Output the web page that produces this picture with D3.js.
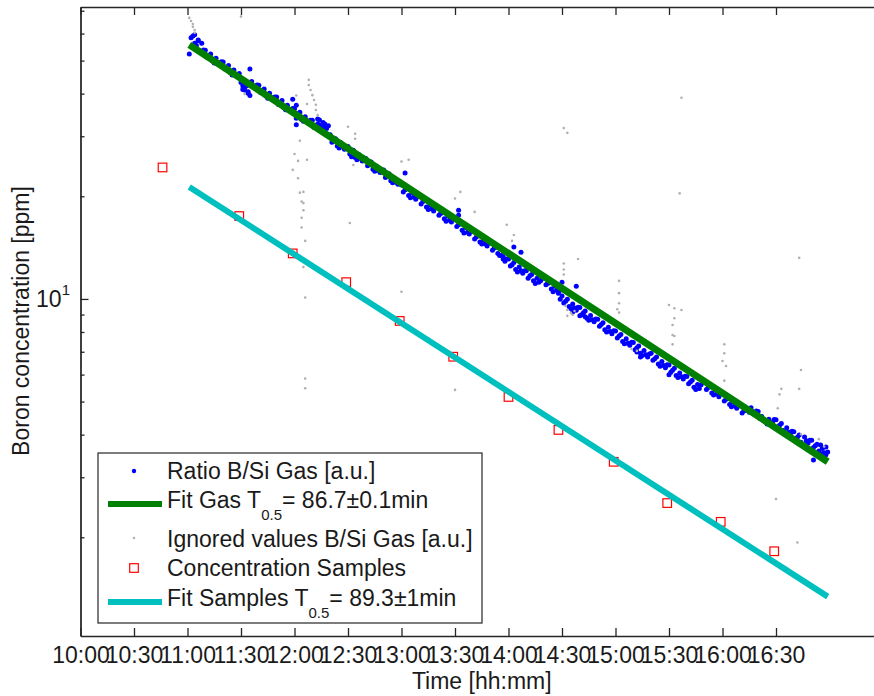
<!DOCTYPE html>
<html>
<head>
<meta charset="utf-8">
<script src="https://cdn.jsdelivr.net/npm/d3@7"></script>
<style>
  html, body { margin: 0; padding: 0; background: #ffffff; }
  svg { display: block; font-family: "Liberation Sans", Arial, Helvetica, sans-serif; }
</style>
</head>
<body>
<script>
// ---------------- DATA ----------------
const xTickLabels = ["10:00","10:30","11:00","11:30","12:00","12:30","13:00","13:30","14:00","14:30","15:00","15:30","16:00","16:30"];
const yMinorTicks = [2,3,4,5,6,7,8,9,20,30,40,50,60,70];
const yMajorTicks = [10];

// Ratio B/Si Gas [a.u.] (blue)
const gasRatio = [
["11:02",58.3],["11:04",56.2],["11:06",57.2],["11:08",52.6],["11:10",53.6],
["11:12",51.7],["11:14",49.9],["11:16",50.8],["11:18",48.6],["11:20",49.5],
["11:22",47.8],["11:24",46.1],["11:26",46.9],["11:28",45.0],["11:30",43.1],
["11:32",41.6],["11:34",40.1],["11:36",43.4],["11:38",41.6],["11:40",42.3],
["11:42",40.8],["11:44",39.4],["11:46",40.1],["11:48",38.4],["11:50",39.1],
["11:52",37.7],["11:54",36.4],["11:56",37.0],["11:58",35.5],["12:00",36.1],
["12:02",34.9],["12:04",33.6],["12:06",34.2],["12:08",32.8],["12:10",33.4],
["12:12",32.2],["12:14",32.3],["12:16",32.9],["12:18",31.6],["12:20",30.3],
["12:22",29.2],["12:24",28.1],["12:26",28.7],["12:28",27.5],["12:30",28.0],
["12:32",27.0],["12:34",26.0],["12:36",26.5],["12:38",25.4],["12:40",25.8],
["12:42",24.9],["12:44",24.0],["12:46",24.5],["12:48",23.5],["12:50",23.9],
["12:52",23.0],["12:54",22.2],["12:56",22.6],["12:58",21.7],["13:00",21.6],
["13:02",20.9],["13:04",20.1],["13:06",20.5],["13:08",19.6],["13:10",20.0],
["13:12",19.3],["13:14",18.6],["13:16",18.9],["13:18",18.1],["13:20",18.5],
["13:22",17.8],["13:24",17.2],["13:26",17.5],["13:28",16.8],["13:30",17.1],
["13:32",16.5],["13:34",15.9],["13:36",16.2],["13:38",15.5],["13:40",15.8],
["13:42",15.2],["13:44",14.7],["13:46",14.9],["13:48",14.3],["13:50",14.6],
["13:52",14.1],["13:54",13.6],["13:56",13.4],["13:58",12.9],["14:00",13.1],
["14:02",12.6],["14:04",12.2],["14:06",12.4],["14:08",11.9],["14:10",12.1],
["14:12",11.7],["14:14",11.3],["14:16",11.5],["14:18",11.3],["14:20",11.5],
["14:22",11.1],["14:24",10.7],["14:26",10.9],["14:28",10.4],["14:30",10.2],
["14:32",9.85],["14:34",9.50],["14:36",9.67],["14:38",9.27],["14:40",9.44],
["14:42",9.11],["14:44",8.78],["14:46",8.94],["14:48",8.57],["14:50",8.72],
["14:52",8.42],["14:54",8.12],["14:56",8.26],["14:58",7.91],["15:00",8.06],
["15:02",7.78],["15:04",7.50],["15:06",7.64],["15:08",7.32],["15:10",7.45],
["15:12",7.19],["15:14",6.93],["15:16",7.06],["15:18",6.76],["15:20",6.93],
["15:22",6.68],["15:24",6.44],["15:26",6.56],["15:28",6.28],["15:30",6.40],
["15:32",6.18],["15:34",5.96],["15:36",6.07],["15:38",5.82],["15:40",5.92],
["15:42",5.71],["15:44",5.51],["15:46",5.61],["15:48",5.60],["15:50",5.70],
["15:52",5.50],["15:54",5.30],["15:56",5.40],["15:58",5.17],["16:00",5.27],
["16:02",5.08],["16:04",4.90],["16:06",4.98],["16:08",4.78],["16:10",4.86],
["16:12",4.69],["16:14",4.72],["16:16",4.80],["16:18",4.60],["16:20",4.68],
["16:22",4.52],["16:24",4.36],["16:26",4.44],["16:28",4.34],["16:30",4.42],
["16:32",4.26],["16:34",4.11],["16:36",4.19],["16:38",4.01],["16:40",4.08],
["16:42",3.93],["16:44",3.80],["16:46",3.94],["16:48",3.78],["16:50",3.85],
["16:52",3.71],["16:54",3.58],["16:56",3.64],["16:58",3.49],
["11:03",59.0],["11:05",55.4],["11:07",53.4],["11:09",53.7],["11:11",51.1],
["11:13",52.3],["11:15",49.2],["11:17",49.4],["11:19",49.6],["11:21",47.2],
["11:23",48.4],["11:25",45.4],["11:27",45.6],["11:29",45.8],["11:31",41.1],
["11:33",42.1],["11:35",39.5],["11:37",42.2],["11:39",42.4],["11:41",40.3],
["11:43",41.3],["11:45",38.8],["11:47",39.0],["11:49",39.1],["11:51",37.2],
["11:53",38.2],["11:55",35.9],["11:57",36.0],["11:59",36.2],["12:01",34.4],
["12:03",35.3],["12:05",33.2],["12:07",33.3],["12:09",33.4],["12:11",31.8],
["12:13",32.6],["12:15",31.9],["12:17",32.0],["12:19",32.2],["12:21",28.8],
["12:23",29.5],["12:25",27.7],["12:27",27.9],["12:29",28.0],["12:31",26.6],
["12:33",27.3],["12:35",25.6],["12:37",25.8],["12:39",25.9],["12:41",24.6],
["12:43",25.2],["12:45",23.7],["12:47",23.8],["12:49",23.9],["12:51",22.7],
["12:53",23.3],["12:55",21.9],["12:57",22.0],["12:59",22.1],["13:01",20.6],
["13:03",21.1],["13:05",19.8],["13:07",19.9],["13:09",20.0],["13:11",19.0],
["13:13",19.5],["13:15",18.3],["13:17",18.4],["13:19",18.5],["13:21",17.6],
["13:23",18.0],["13:25",16.9],["13:27",17.0],["13:29",17.1],["13:31",16.3],
["13:33",16.7],["13:35",15.6],["13:37",15.7],["13:39",15.8],["13:41",15.0],
["13:43",15.4],["13:45",14.5],["13:47",14.5],["13:49",14.6],["13:51",13.9],
["13:53",14.2],["13:55",13.4],["13:57",13.1],["13:59",13.1],["14:01",12.5],
["14:03",12.8],["14:05",12.0],["14:07",12.1],["14:09",12.1],["14:11",11.5],
["14:13",11.8],["14:15",11.1],["14:17",11.2],["14:19",11.5],["14:21",11.0],
["14:23",11.2],["14:25",10.5],["14:27",10.6],["14:29",10.6],["14:31",9.73],
["14:33",9.98],["14:35",9.37],["14:37",9.40],["14:39",9.45],["14:41",8.99],
["14:43",9.22],["14:45",8.66],["14:47",8.69],["14:49",8.73],["14:51",8.31],
["14:53",8.52],["14:55",8.00],["14:57",8.03],["14:59",8.07],["15:01",7.68],
["15:03",7.87],["15:05",7.39],["15:07",7.42],["15:09",7.46],["15:11",7.10],
["15:13",7.28],["15:15",6.83],["15:17",6.86],["15:19",6.89],["15:21",6.61],
["15:23",6.76],["15:25",6.35],["15:27",6.38],["15:29",6.41],["15:31",6.10],
["15:33",6.26],["15:35",5.88],["15:37",5.91],["15:39",5.93],["15:41",5.64],
["15:43",5.78],["15:45",5.43],["15:47",5.46],["15:49",5.70],["15:51",5.43],
["15:53",5.57],["15:55",5.23],["15:57",5.25],["15:59",5.27],["16:01",5.02],
["16:03",5.14],["16:05",4.83],["16:07",4.85],["16:09",4.87],["16:11",4.63],
["16:13",4.75],["16:15",4.65],["16:17",4.67],["16:19",4.69],["16:21",4.46],
["16:23",4.40],["16:25",4.30],["16:27",4.32],["16:29",4.43],["16:31",4.21],
["16:33",4.31],["16:35",4.05],["16:37",4.07],["16:39",4.09],["16:41",3.89],
["16:43",3.99],["16:45",3.74],["16:47",3.84],["16:49",3.85],["16:51",3.67],
["16:53",3.75],["16:55",3.52],["16:57",3.54],["16:59",3.56],
["11:01",52.3],["11:04",59.5],["11:06",57.5],["11:08",56.2],["11:35",47.2],
["11:32",41.0],["11:34",40.5],["11:31",42.1],["11:59",38.5],["12:01",37.0],
["12:01",33.9],["12:01",32.4],["12:14",33.5],["12:17",32.6],["12:13",33.7],
["12:32",26.1],["13:02",23.4],["13:32",18.2],["13:32",17.6],["14:03",14.2],
["14:07",13.7],["13:57",13.3],["14:38",10.9],["14:30",11.2],["14:29",9.98],
["14:36",9.16],["14:40",8.92],["14:43",8.86],["15:30",5.99],["15:12",6.99],
["15:14",6.76],["16:51",3.37],["16:55",3.73],["16:58",3.68]
];

// Ignored values B/Si Gas [a.u.] (grey)
const gasIgnored = [
["11:01",66.7],["11:02",65.3],["11:03",64.0],["11:03",62.8],["11:04",61.5],["11:04",60.3],
["11:30",67.3],["11:32",39.9],
["12:08",43.9],["12:08",42.4],["12:09",41.0],["12:10",39.6],["12:11",38.3],["12:12",37.1],
["12:12",35.8],["12:13",34.6],["12:01",39.5],["12:07",37.3],["12:03",29.1],["12:00",26.6],
["12:07",25.6],["12:02",25.4],["11:59",23.9],["12:02",22.6],["12:03",20.5],["12:05",20.6],
["12:04",19.3],["12:05",19.1],["12:05",18.2],["12:04",17.3],["12:04",16.2],["12:06",14.8],
["12:05",12.4],["12:06",10.1],["12:06",5.84],["12:06",5.47],
["12:30",32.0],["12:34",30.5],["12:34",29.5],["12:33",24.7],["12:31",16.7],
["13:00",25.3],["13:04",25.6],["13:00",10.5],
["13:30",19.7],["13:33",20.6],["13:41",18.0],["13:30",5.41],
["14:03",15.4],["14:02",14.8],["13:59",16.5],
["14:31",12.7],["14:39",13.1],["14:31",12.2],["14:31",11.8],["14:32",9.54],["14:33",9.28],
["14:35",9.10],["14:36",8.98],["14:37",9.22],["14:33",8.92],["14:31",31.7],["14:33",30.7],
["15:02",11.3],["15:02",10.4],["15:02",9.71],["15:01",9.33],["15:02",9.12],
["15:37",38.9],["15:36",20.4],["15:30",9.60],["15:33",9.39],["15:37",9.28],["15:33",8.78],
["15:32",8.39],["15:32",7.84],["15:33",7.79],["15:32",7.36],
["16:01",7.36],["16:01",6.93],["16:00",6.58],["16:02",6.36],["16:01",5.76],
["16:43",13.2],["16:44",6.19],["16:43",5.45],["16:33",5.45],["16:32",5.25],["16:31",4.78],
["16:44",4.01],["16:54",3.88],["16:57",3.69],["16:30",2.59],["16:42",1.93],
["15:09",7.13],["15:12",7.04]
];

// Concentration samples (red squares)
const sampleTimes  = ["10:46","11:29","11:59","12:29","12:59","13:29","14:00","14:28","14:59","15:29","15:59","16:29"];
const sampleValues = [24.3, 17.5, 13.6, 11.2, 8.62, 6.77, 5.16, 4.13, 3.33, 2.52, 2.22, 1.82];

// Exponential fits (straight on log axis) – end points
const fitGasTimes     = ["11:01","16:59"];
const fitGasValues    = [55.6, 3.33];
const fitSampleTimes  = ["11:01","16:59"];
const fitSampleValues = [21.3, 1.34];

const legendLabels = ["Ratio B/Si Gas [a.u.]", "Fit Gas T", "Ignored values B/Si Gas [a.u.]", "Concentration Samples", "Fit Samples T"];

// ---------------- CHART ----------------
const W = 874, H = 696;
const FS = 23;
const parse = d3.timeParse("%H:%M");
const plot = { left: 80.5, top: 7, bottom: 636, right: 883 };

const x = d3.scaleTime()
  .domain([parse("10:00"), parse("17:30")])
  .range([plot.left, plot.right]);
const y = d3.scaleLog()
  .domain([1.027, 71.8])
  .range([plot.bottom, plot.top]);

const svg = d3.select("body").append("svg").attr("width", W).attr("height", H);
const textColor = "#1a1a1a";
const axisColor = "#262626";

// data layers
svg.append("g").selectAll("circle").data(gasRatio).join("circle")
  .attr("cx", d => x(parse(d[0]))).attr("cy", d => y(d[1]))
  .attr("r", 2.5).attr("fill", "#0000ff");

const line = d3.line().x(d => x(d.t)).y(d => y(d.v));
const gasFit = fitGasTimes.map((t, i) => ({ t: parse(t), v: fitGasValues[i] }));
svg.append("path").datum(gasFit).attr("d", line)
  .attr("stroke", "#008000").attr("stroke-width", 7).attr("fill", "none");

svg.append("g").selectAll("circle").data(gasIgnored).join("circle")
  .attr("cx", d => x(parse(d[0]))).attr("cy", d => y(d[1]))
  .attr("r", 1.3).attr("fill", "#b0b0b0");

const samples = sampleTimes.map((t, i) => ({ t: parse(t), v: sampleValues[i] }));
svg.append("g").selectAll("rect").data(samples).join("rect")
  .attr("x", d => x(d.t) - 4.3).attr("y", d => y(d.v) - 4.3)
  .attr("width", 8.6).attr("height", 8.6)
  .attr("fill", "none").attr("stroke", "#ff0000").attr("stroke-width", 1.2);

const sampleFit = fitSampleTimes.map((t, i) => ({ t: parse(t), v: fitSampleValues[i] }));
svg.append("path").datum(sampleFit).attr("d", line)
  .attr("stroke", "#00bfbf").attr("stroke-width", 6).attr("fill", "none");

// axes
const tickDates = xTickLabels.map(parse);
const fmt = d3.timeFormat("%H:%M");

const xAxisB = svg.append("g").attr("transform", `translate(0,${plot.bottom})`)
  .call(d3.axisBottom(x).tickValues(tickDates).tickFormat(fmt).tickSizeInner(-8).tickSizeOuter(0).tickPadding(11));
const xAxisT = svg.append("g").attr("transform", `translate(0,${plot.top})`)
  .call(d3.axisTop(x).tickValues(tickDates).tickFormat("").tickSizeInner(-8).tickSizeOuter(0));
const yAxisMinor = svg.append("g").attr("transform", `translate(${plot.left},0)`)
  .call(d3.axisLeft(y).tickValues(yMinorTicks).tickFormat("").tickSizeInner(-4).tickSizeOuter(0));
const yAxisMajor = svg.append("g").attr("transform", `translate(${plot.left},0)`)
  .call(d3.axisLeft(y).tickValues(yMajorTicks).tickFormat("").tickSizeInner(-8).tickSizeOuter(0));

[xAxisB, xAxisT, yAxisMinor, yAxisMajor].forEach(g => {
  g.selectAll("path.domain").attr("stroke", axisColor).attr("stroke-width", 1.3);
  g.selectAll(".tick line").attr("stroke", axisColor).attr("stroke-width", 1.3);
});
xAxisB.selectAll(".tick text").attr("font-size", FS).attr("fill", textColor)
  .attr("font-family", "Liberation Sans, Arial, sans-serif");

// y major tick label 10^1
yMajorTicks.forEach(v => {
  const t = svg.append("text").attr("x", 70).attr("y", y(v) + 8)
    .attr("text-anchor", "end").attr("font-size", FS).attr("fill", textColor);
  t.append("tspan").text("10");
  t.append("tspan").attr("font-size", 15).attr("dy", -12).text("1");
});

// axis titles
svg.append("text").attr("x", (plot.left + plot.right) / 2).attr("y", 689)
  .attr("text-anchor", "middle").attr("font-size", FS).attr("fill", textColor)
  .text("Time [hh:mm]");
svg.append("text").attr("transform", "translate(29,321) rotate(-90)")
  .attr("text-anchor", "middle").attr("font-size", FS).attr("fill", textColor)
  .text("Boron concentration [ppm]");

// legend
const lg = svg.append("g");
lg.append("rect").attr("x", 98).attr("y", 453).attr("width", 384).attr("height", 170)
  .attr("fill", "#ffffff").attr("stroke", axisColor).attr("stroke-width", 1.2);
const rowY = [471, 504, 538, 568, 602];
const tx = 167;
lg.append("circle").attr("cx", 134).attr("cy", rowY[0]).attr("r", 2.2).attr("fill", "#0000ff");
lg.append("line").attr("x1", 108).attr("x2", 162).attr("y1", rowY[1]).attr("y2", rowY[1])
  .attr("stroke", "#008000").attr("stroke-width", 6);
lg.append("circle").attr("cx", 134).attr("cy", rowY[2]).attr("r", 1.25).attr("fill", "#b0b0b0");
lg.append("rect").attr("x", 134 - 4.3).attr("y", rowY[3] - 4.3).attr("width", 8.6).attr("height", 8.6)
  .attr("fill", "none").attr("stroke", "#ff0000").attr("stroke-width", 1.2);
lg.append("line").attr("x1", 108).attr("x2", 162).attr("y1", rowY[4]).attr("y2", rowY[4])
  .attr("stroke", "#00bfbf").attr("stroke-width", 6);

function legText(yb, main, sub, rest) {
  const t = lg.append("text").attr("x", tx).attr("y", yb).attr("font-size", FS).attr("fill", textColor);
  t.append("tspan").text(main);
  if (sub) {
    t.append("tspan").attr("font-size", 15).attr("dy", 12).text(sub);
    t.append("tspan").attr("dy", -12).text(rest);
  }
}
legText(479, legendLabels[0]);
legText(508, legendLabels[1], "0.5", "= 86.7\u00b10.1min");
legText(546.5, legendLabels[2]);
legText(576, legendLabels[3]);
legText(606, legendLabels[4], "0.5", "= 89.3\u00b11min");
</script>
</body>
</html>
